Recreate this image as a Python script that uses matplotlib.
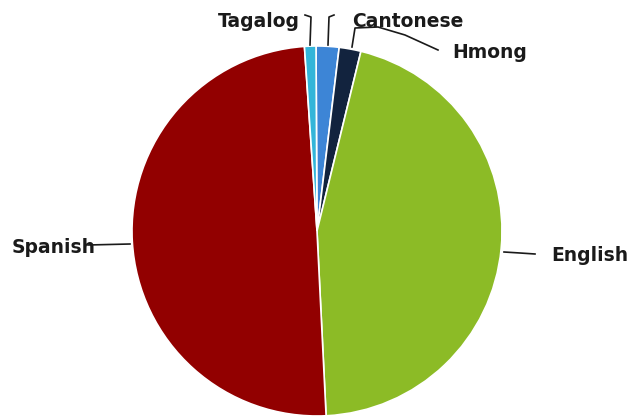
import matplotlib.pyplot as plt

# languages, clockwise from the top
idiomas = ["Cantonese", "Hmong", "English", "Spanish", "Tagalog"]
porcentajes = [2.0, 1.9, 45.4, 49.7, 1.0]
colores = ["#3d85d6", "#12233e", "#8cbb26", "#920000", "#33b5d9"]

W, H = 639, 418
cx, cy, r = 317, H - 231, 185

fig = plt.figure(figsize=(W / 100, H / 100), dpi=100)
ax = fig.add_axes([0, 0, 1, 1])
ax.pie(porcentajes, colors=colores, startangle=90.3, counterclock=False,
       center=(cx, cy), radius=r, frame=True,
       wedgeprops=dict(edgecolor="white", linewidth=1.2))
ax.set_xlim(0, W)
ax.set_ylim(0, H)
ax.axis("off")

def y(p):
    return H - p

# leader lines (pixel coords of the picture)
lineas = {
    "Tagalog": [(310, 45), (311, 17), (305, 15)],
    "Cantonese": [(328, 45), (329, 17), (334, 15)],
    "Hmong": [(352, 47), (355, 28), (378, 27), (405, 35), (438, 50)],
    "Spanish": [(130, 244), (88, 245)],
    "English": [(504, 252), (520, 253), (535, 254)],
}
for nombre, pts in lineas.items():
    ax.plot([p[0] for p in pts], [y(p[1]) for p in pts], color="#1a1a1a", lw=1.2)

etiquetas = {
    "Tagalog": (218, 27),
    "Cantonese": (352, 27),
    "Hmong": (452, 58),
    "English": (551, 261),
    "Spanish": (12, 253),
}
for nombre, (tx, ty) in etiquetas.items():
    ax.text(tx, y(ty), nombre, ha="left", va="baseline", fontsize=13.5,
            fontweight="bold", color="#1a1a1a", family="DejaVu Sans")

fig.savefig("out.png", dpi=100)
